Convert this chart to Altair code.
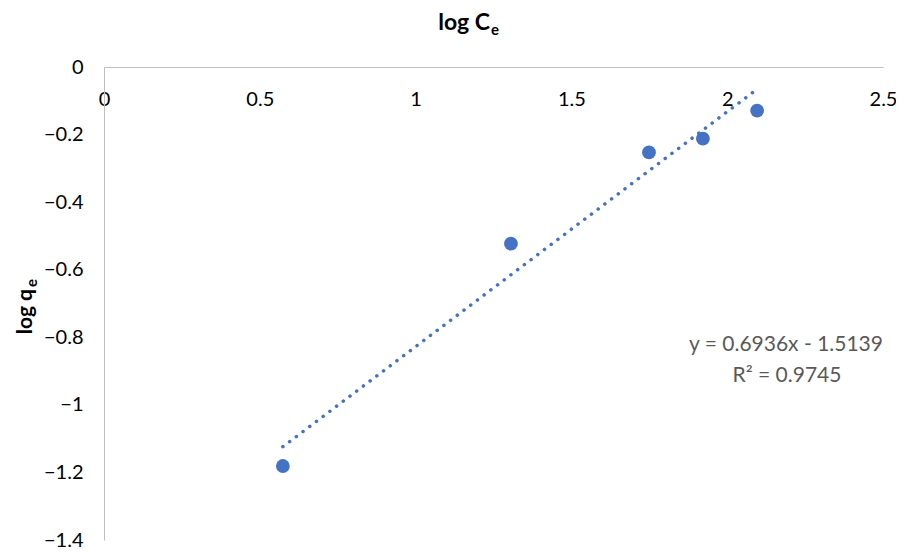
import altair as alt
import pandas as pd

log_ce = [0.574, 1.306, 1.749, 1.922, 2.096]
log_qe = [-1.181, -0.523, -0.253, -0.212, -0.129]

x_ticks = [0, 0.5, 1, 1.5, 2, 2.5]
y_ticks = [0, -0.2, -0.4, -0.6, -0.8, -1, -1.2, -1.4]

eq_line1 = "y = 0.6936x - 1.5139"
eq_line2 = "R² = 0.9745"

df = pd.DataFrame({"x": log_ce, "y": log_qe})

FONT = "Lato"
BLUE = "#4472C4"
W, H = 779, 473

xscale = alt.Scale(domain=[0, 2.5], nice=False, zero=False)
yscale = alt.Scale(domain=[-1.4, 0], nice=False, zero=False)

x_axis = alt.Axis(
    orient="bottom", offset=-H, values=x_ticks, ticks=False, grid=False,
    domainColor="#BFBFBF", domainWidth=1, labelPadding=22, format="~g",
    labelFont=FONT, labelFontSize=20, labelColor="#000000",
    labelFlush=False, title=None)
y_axis = alt.Axis(
    orient="left", values=y_ticks, ticks=False, grid=False,
    domainColor="#BFBFBF", domainWidth=1, labelPadding=21, format="~g",
    labelFont=FONT, labelFontSize=20, labelColor="#000000",
    labelFlush=False, title=None)

x_enc = alt.X("x:Q", scale=xscale, axis=x_axis)
y_enc = alt.Y("y:Q", scale=yscale, axis=y_axis)

base = alt.Chart(df)

points = base.mark_circle(size=190, opacity=1, color=BLUE).encode(x=x_enc, y=y_enc)

trend = base.transform_regression("x", "y").mark_line(
    color=BLUE, strokeWidth=3.5, strokeDash=[0.1, 8.3], strokeCap="round"
).encode(x=x_enc, y=y_enc)


def label(text, size, x, y, align, angle=0, weight="bold", color="#000000"):
    return alt.Chart(pd.DataFrame({"t": [text]})).mark_text(
        font=FONT, fontSize=size, fontWeight=weight, color=color,
        align=align, baseline="alphabetic", angle=angle
    ).encode(text="t:N", x=alt.value(x), y=alt.value(y))


# x title "log Ce" (subscript e)
title_main = label("log C", 23, 386, -37, "right")
title_sub = label("e", 15, 387, -32, "left")

# y title "log qe" rotated
ytitle_main = label("log q", 21, -72, 222, "right", angle=270)
ytitle_sub = label("e", 15, -67, 220, "left", angle=270)

eq1 = alt.Chart(pd.DataFrame({"t": [eq_line1]})).mark_text(
    font=FONT, fontSize=21, color="#595959", align="center", baseline="middle"
).encode(text="t:N", x=alt.value(682), y=alt.value(278))
eq2 = alt.Chart(pd.DataFrame({"t": [eq_line2]})).mark_text(
    font=FONT, fontSize=21, color="#595959", align="center", baseline="middle"
).encode(text="t:N", x=alt.value(683), y=alt.value(309))

chart = alt.layer(
    points, trend, title_main, title_sub, ytitle_main, ytitle_sub, eq1, eq2
).properties(
    width=W, height=H,
    padding={"left": 96, "top": 59, "right": 13, "bottom": 8},
    autosize=alt.AutoSizeParams(type="none"),
).configure_view(stroke=None)

chart.save("out.html", embed_options={"renderer": "svg", "actions": False})
